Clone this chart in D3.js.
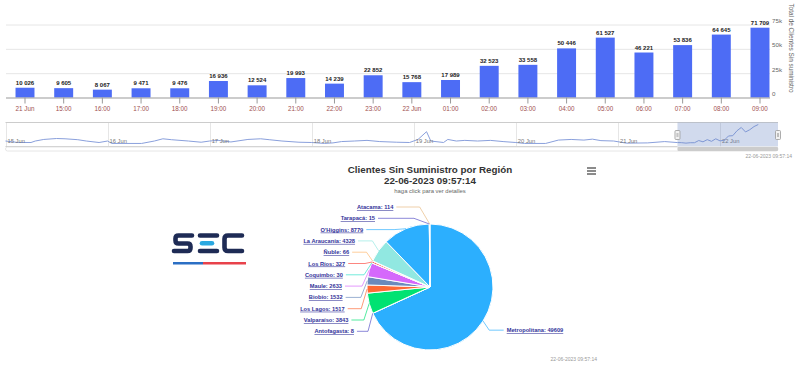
<!DOCTYPE html>
<html>
<head>
<meta charset="utf-8">
<script src="https://cdn.jsdelivr.net/npm/d3@7/dist/d3.min.js"></script>
<style>
body { margin: 0; background: #fff; }
svg { display: block; font-family: "Liberation Sans", Arial, sans-serif; }
</style>
</head>
<body>
<svg id="chart" width="800" height="385"></svg>
<script>
// hourly totals shown in the column chart
var hourLabels = ["21 Jun", "15:00", "16:00", "17:00", "18:00", "19:00", "20:00", "21:00", "22:00", "23:00",
                  "22 Jun", "01:00", "02:00", "03:00", "04:00", "05:00", "06:00", "07:00", "08:00", "09:00"];
var hourTotals = [10026, 9605, 8067, 9471, 9476, 16936, 12524, 19993, 14239, 22852,
                  15768, 17989, 32523, 33558, 50446, 61527, 46221, 53836, 64645, 71709];
var yTicks = [0, 25000, 50000, 75000];

// navigator history (hours since 15 Jun 00:00)
var navHours = [0, 3, 6, 7, 9, 12, 14, 17, 19, 22, 24, 25, 32, 35, 37, 39, 43, 46, 48, 50, 53, 57, 60, 62, 65,
                69, 72, 75, 77, 79, 82, 85, 88, 92, 95, 97, 99, 100, 103, 104, 106, 108, 111, 114, 117, 120,
                122, 127, 130, 133, 136, 138, 140, 143, 146, 151, 155];
var navValues = [15300, 10200, 10200, 15300, 20700, 23900, 22900, 19800, 15300, 10200, 15300, 7000, 7000,
                 15300, 22900, 19800, 15300, 11200, 15300, 17500, 12100, 20700, 22900, 19800, 15300, 11200,
                 10200, 7000, 8900, 13400, 15300, 17500, 13400, 11200, 10200, 20700, 47200, 15300, 10200,
                 20700, 15300, 17500, 15300, 17500, 13400, 10200, 7000, 7000, 18500, 20700, 18500, 21700,
                 16600, 15300, 8000, 8900, 13400];
var navDays = ["15 Jun", "16 Jun", "17 Jun", "18 Jun", "19 Jun", "20 Jun", "21 Jun", "22 Jun"];
var firstBarHour = 158; // 21 Jun 14:00

// pie by region
var regions = ["Metropolitana", "Antofagasta", "Valparaíso", "Los Lagos", "Biobío", "Maule", "Coquimbo",
               "Los Ríos", "Ñuble", "La Araucanía", "O'Higgins", "Tarapacá", "Atacama"];
var regionClients = [49609, 8, 3843, 1517, 1532, 2633, 30, 327, 66, 4328, 8779, 15, 114];
var regionColors = ["#2caffe", "#544fc5", "#00e272", "#fe6a35", "#6b8abc", "#d568fb", "#2ee0ca",
                    "#fa4b42", "#feb56a", "#91e8e1", "#2caffe", "#544fc5", "#e8b980"];

var stamp = "22-06-2023 09:57:14";

var svg = d3.select("#chart");
var fmt = d3.formatLocale({decimal: ",", thousands: " ", grouping: [3], currency: ["", ""]}).format(",");

// ---------- column chart ----------
var plotLeft = 6, plotRight = 770;
var x = d3.scalePoint().domain(hourLabels).range([25, 760]);
var y = d3.scaleLinear().domain([0, 75000]).range([97.5, 24.5]);
var barW = x.step() * 0.49;

svg.append("g").selectAll("line").data(yTicks.slice(1)).join("line")
    .attr("x1", plotLeft).attr("x2", plotRight)
    .attr("y1", function(d) { return y(d) + 0.5; }).attr("y2", function(d) { return y(d) + 0.5; })
    .attr("stroke", "#e6e6e6");

svg.append("g").selectAll("text").data(yTicks).join("text")
    .attr("x", 772).attr("y", function(d) { return y(d) - 1.5; })
    .attr("font-size", 6.2).attr("fill", "#666")
    .text(function(d) { return d ? d / 1000 + "k" : "0"; });

svg.append("text")
    .attr("transform", "translate(789,48) rotate(90)")
    .attr("text-anchor", "middle").attr("font-size", 6.4).attr("fill", "#666")
    .text("Total de Clientes Sin suministro");

svg.append("g").selectAll("rect").data(hourTotals).join("rect")
    .attr("x", function(d, i) { return x(hourLabels[i]) - barW / 2; })
    .attr("y", function(d) { return y(d); })
    .attr("width", barW)
    .attr("height", function(d) { return y(0) - y(d); })
    .attr("fill", "#4d6cf5");

svg.append("line")
    .attr("x1", plotLeft).attr("x2", plotRight).attr("y1", y(0) + 0.5).attr("y2", y(0) + 0.5)
    .attr("stroke", "#999");

var xAxis = svg.append("g");
xAxis.selectAll("line").data(hourLabels).join("line")
    .attr("x1", function(d) { return x(d); }).attr("x2", function(d) { return x(d); })
    .attr("y1", y(0)).attr("y2", y(0) + 6)
    .attr("stroke", "#999");
xAxis.selectAll("text").data(hourLabels).join("text")
    .attr("x", function(d) { return x(d); }).attr("y", 111)
    .attr("text-anchor", "middle").attr("font-size", 6.3).attr("fill", "#a0504f")
    .text(function(d) { return d; });

svg.append("g").selectAll("text").data(hourTotals).join("text")
    .attr("x", function(d, i) { return x(hourLabels[i]); })
    .attr("y", function(d) { return y(d) - 3; })
    .attr("text-anchor", "middle").attr("font-size", 6).attr("font-weight", "bold")
    .attr("fill", "#222").attr("stroke", "#fff").attr("stroke-width", 0.8).attr("paint-order", "stroke")
    .text(function(d) { return fmt(d); });

// ---------- navigator ----------
var navTop = 122.5, navBottom = 146.5, navLeft = 5.5, navRight = 778;
var xNav = d3.scaleLinear().domain([0, 168]).range([5.5, 720]);
var allHours = navHours.concat(hourTotals.map(function(d, i) { return firstBarHour + i; }));
var allValues = navValues.concat(hourTotals);
var yNav = d3.scaleLinear().domain([0, d3.max(allValues)]).range([145.5, 124.5]);

svg.append("g").selectAll("line").data(navDays).join("line")
    .attr("x1", function(d, i) { return Math.round(xNav(i * 24)) + 0.5; })
    .attr("x2", function(d, i) { return Math.round(xNav(i * 24)) + 0.5; })
    .attr("y1", navTop).attr("y2", navBottom)
    .attr("stroke", "#e6e6e6");

svg.append("line").attr("x1", navLeft).attr("x2", navRight).attr("y1", navTop).attr("y2", navTop)
    .attr("stroke", "#ccc");

svg.append("path")
    .datum(allHours)
    .attr("d", d3.line().x(function(d) { return xNav(d); }).y(function(d, i) { return yNav(allValues[i]); }))
    .attr("fill", "none").attr("stroke", "#8aa0dc").attr("stroke-width", 1);

svg.append("g").selectAll("text").data(navDays).join("text")
    .attr("x", function(d, i) { return xNav(i * 24) + 2; }).attr("y", 143)
    .attr("font-size", 5.8).attr("fill", "#777")
    .text(function(d) { return d; });

var selX = xNav(firstBarHour);
svg.append("rect").attr("x", selX).attr("y", navTop).attr("width", navRight - selX)
    .attr("height", navBottom - navTop).attr("fill", "rgba(102,133,194,0.3)");
svg.append("line").attr("x1", navLeft).attr("x2", selX).attr("y1", navBottom).attr("y2", navBottom)
    .attr("stroke", "#ccc");

[selX, navRight].forEach(function(hx) {
    var h = svg.append("g").attr("transform", "translate(" + hx + ",130.5)");
    h.append("rect").attr("x", -2.5).attr("y", 0).attr("width", 5).attr("height", 9).attr("rx", 1)
        .attr("fill", "#f2f2f2").attr("stroke", "#999").attr("stroke-width", 0.8);
    h.append("path").attr("d", "M-0.5,2.5V6.5M0.5,2.5V6.5").attr("stroke", "#999").attr("stroke-width", 0.6);
});

// scrollbar
svg.append("rect").attr("x", navLeft).attr("y", 147).attr("width", navRight - navLeft).attr("height", 4)
    .attr("rx", 2).attr("fill", "#fff").attr("stroke", "#e0e0e0").attr("stroke-width", 0.8);
svg.append("rect").attr("x", selX).attr("y", 147).attr("width", navRight - selX).attr("height", 4)
    .attr("rx", 1).attr("fill", "#ccc");

svg.append("text").attr("x", 792).attr("y", 158).attr("text-anchor", "end")
    .attr("font-size", 5).attr("fill", "#999").text(stamp);

// ---------- SEC logo ----------
var logo = svg.append("g").attr("fill", "none").attr("stroke-width", 4.6).attr("stroke-linecap", "round")
    .attr("stroke-linejoin", "round");
logo.append("path").attr("stroke", "#1e2b55")
    .attr("d", "M192,235.5H178.5Q175.5,235.5 175.5,238.5V240.5Q175.5,243.5 178.5,243.5H187.5Q190.5,243.5 190.5,246.5V248Q190.5,251 187.5,251H174");
logo.append("path").attr("stroke", "#1e2b55").attr("d", "M217,235.5H200M217,251H200");
logo.append("path").attr("stroke", "#2aa8e0").attr("d", "M202,243.3H212");
logo.append("path").attr("stroke", "#1e2b55")
    .attr("d", "M242,235.5H228Q224.5,235.5 224.5,239V247.5Q224.5,251 228,251H242");
svg.append("rect").attr("x", 173).attr("y", 262).attr("width", 30).attr("height", 2.5).attr("fill", "#2b6fc4");
svg.append("rect").attr("x", 203).attr("y", 262).attr("width", 43).attr("height", 2.5).attr("fill", "#e8424b");

// ---------- pie chart ----------
var cx = 430, cy = 287, r = 63;

svg.append("text").attr("x", cx).attr("y", 173).attr("text-anchor", "middle")
    .attr("font-size", 9.8).attr("font-weight", "bold").attr("fill", "#333")
    .text("Clientes Sin Suministro por Región");
svg.append("text").attr("x", cx).attr("y", 183.5).attr("text-anchor", "middle")
    .attr("font-size", 9.8).attr("font-weight", "bold").attr("fill", "#333")
    .text(stamp);
svg.append("text").attr("x", cx).attr("y", 193).attr("text-anchor", "middle")
    .attr("font-size", 5.9).attr("fill", "#666")
    .text("haga click para ver detalles");

svg.append("path").attr("d", "M587,168H596M587,171H596M587,174H596")
    .attr("stroke", "#666").attr("stroke-width", 1.3);

var pie = d3.pie().sort(null).value(function(d) { return d; });
var arcs = pie(regionClients);
var arc = d3.arc().innerRadius(0).outerRadius(r);

var pieG = svg.append("g").attr("transform", "translate(" + cx + "," + cy + ")");
pieG.selectAll("path").data(arcs).join("path")
    .attr("d", arc)
    .attr("fill", function(d, i) { return regionColors[i]; })
    .attr("stroke", "#fff").attr("stroke-width", 1);

// label layout: natural height, then stack without overlap
var labelRy = 80, labelRx = 88, gap = 11.3, minY = 207, maxY = 345;
var labels = arcs.map(function(d, i) {
    var a = (d.startAngle + d.endAngle) / 2;
    return {
        i: i, a: a, left: a > Math.PI,
        ty: cy - labelRy * Math.cos(a),
        ax: cx + r * Math.sin(a), ay: cy - r * Math.cos(a)
    };
});

function spread(list) {
    list.sort(function(p, q) { return p.ty - q.ty; });
    var cl = list.map(function(d) { return {m: [d]}; });
    function place(c) {
        var n = c.m.length - 1;
        var top = d3.mean(c.m, function(d) { return d.ty; }) - n * gap / 2;
        top = Math.max(minY, Math.min(top, maxY - n * gap));
        c.top = top; c.bot = top + n * gap;
    }
    cl.forEach(place);
    var merged = true;
    while (merged) {
        merged = false;
        for (var k = 0; k < cl.length - 1; k++) {
            if (cl[k].bot + gap > cl[k + 1].top) {
                cl[k].m = cl[k].m.concat(cl[k + 1].m);
                cl.splice(k + 1, 1);
                place(cl[k]);
                merged = true;
                break;
            }
        }
    }
    cl.forEach(function(c) { c.m.forEach(function(d, j) { d.y = c.top + j * gap; }); });
}
spread(labels.filter(function(d) { return d.left; }));
spread(labels.filter(function(d) { return !d.left; }));

labels.forEach(function(d) {
    var dy = d.y - cy;
    var dx = Math.sqrt(Math.max(labelRx * labelRx - dy * dy, 0));
    d.tx = d.left ? cx - dx : cx + dx;
    d.ex = d.left ? d.tx + 3 : d.tx - 3;
    d.kx = d.ex + 0.7 * (d.ax - d.ex);
});

svg.append("g").selectAll("path").data(labels).join("path")
    .attr("d", function(d) { return "M" + d.ex + "," + d.y + "L" + d.kx + "," + d.y + "L" + d.ax + "," + d.ay; })
    .attr("fill", "none").attr("stroke-width", 0.8).attr("stroke-opacity", 0.85)
    .attr("stroke", function(d) { return regionColors[d.i]; });

svg.append("g").selectAll("text").data(labels).join("text")
    .attr("x", function(d) { return d.tx; })
    .attr("y", function(d) { return d.y + 2; })
    .attr("text-anchor", function(d) { return d.left ? "end" : "start"; })
    .attr("font-size", 5.7).attr("font-weight", "bold").attr("fill", "#33339a")
    .attr("text-decoration", "underline")
    .text(function(d) { return regions[d.i] + ": " + regionClients[d.i]; });

svg.append("text").attr("x", 597).attr("y", 361).attr("text-anchor", "end")
    .attr("font-size", 5).attr("fill", "#999").text(stamp);
</script>
</body>
</html>
